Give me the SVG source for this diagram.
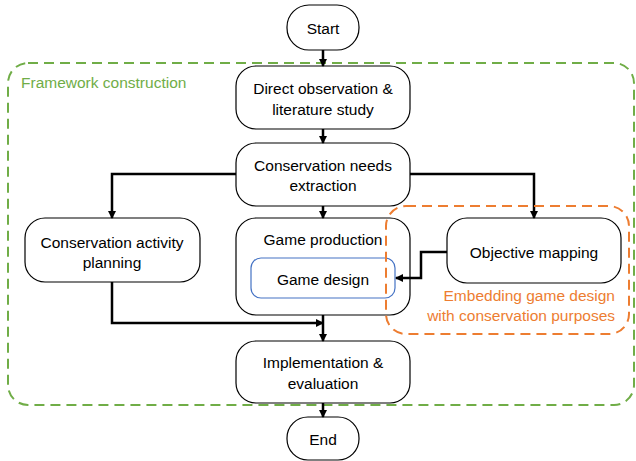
<svg xmlns="http://www.w3.org/2000/svg" width="636" height="461" viewBox="0 0 636 461">
<defs>
<marker id="ah" markerWidth="8" markerHeight="8" refX="7" refY="4" orient="auto" markerUnits="userSpaceOnUse">
<path d="M0,0 L8,4 L0,8 Z" fill="#000"/>
</marker>
<style>
.box{fill:#fff;stroke:#000;stroke-width:1.2}
.t{font-family:"Liberation Sans",Arial,sans-serif;font-size:15.5px;fill:#000;text-anchor:middle;dominant-baseline:central}
.c{fill:none;stroke:#000;stroke-width:2.5;marker-end:url(#ah)}
</style>
</defs>
<rect width="636" height="461" fill="#fff"/>
<g id="framework">
<rect x="8" y="63" width="626" height="342" rx="20" fill="none" stroke="#70AD47" stroke-width="2" stroke-dasharray="10,6"/>
<text x="21" y="82" class="t" style="text-anchor:start;fill:#70AD47">Framework construction</text>
</g>
<g id="start">
<rect class="box" x="287" y="5" width="72" height="45" rx="22"/>
<text class="t" x="323" y="28">Start</text>
</g>
<g id="direct">
<rect class="box" x="236" y="66" width="174" height="63" rx="20"/>
<text class="t" x="323" y="88">Direct observation &amp;</text>
<text class="t" x="323" y="109">literature study</text>
</g>
<g id="needs">
<rect class="box" x="236" y="143" width="174" height="63" rx="20"/>
<text class="t" x="323" y="165">Conservation needs</text>
<text class="t" x="323" y="185">extraction</text>
</g>
<g id="activity">
<rect class="box" x="25" y="218" width="175" height="64" rx="20"/>
<text class="t" x="112" y="242">Conservation activity</text>
<text class="t" x="112" y="262">planning</text>
</g>
<g id="production">
<rect class="box" x="236" y="218" width="174" height="97" rx="20"/>
<text class="t" x="323" y="239">Game production</text>
</g>
<g id="design">
<rect x="251" y="258" width="144" height="40" rx="10" fill="#fff" stroke="#4472C4" stroke-width="1.2"/>
<text class="t" x="323" y="279">Game design</text>
</g>
<g id="objective">
<rect class="box" x="447" y="218" width="174" height="65" rx="20"/>
<text class="t" x="534" y="252">Objective mapping</text>
</g>
<g id="implementation">
<rect class="box" x="236" y="341" width="174" height="62" rx="20"/>
<text class="t" x="323" y="362">Implementation &amp;</text>
<text class="t" x="323" y="383">evaluation</text>
</g>
<g id="end">
<rect class="box" x="287" y="417" width="72" height="43" rx="21"/>
<text class="t" x="323" y="439">End</text>
</g>
<g id="connectors">
<path class="c" d="M323,50 V66"/>
<path class="c" d="M323,129 V143"/>
<path class="c" d="M323,206 V218"/>
<path class="c" d="M236,174 H112 V218"/>
<path class="c" d="M410,174 H534 V218"/>
<path class="c" d="M447,252 H421 V278 H396"/>
<path class="c" d="M112,282 V323 H323"/>
<path class="c" d="M323,315 V341"/>
<path class="c" d="M323,403 V417"/>
</g>
<g id="embedding">
<rect x="386" y="206" width="243" height="128" rx="20" fill="none" stroke="#ED7D31" stroke-width="2" stroke-dasharray="10,6"/>
<text x="615" y="295" class="t" style="text-anchor:end;fill:#ED7D31">Embedding game design</text>
<text x="615" y="315" class="t" style="text-anchor:end;fill:#ED7D31">with conservation purposes</text>
</g>
</svg>
